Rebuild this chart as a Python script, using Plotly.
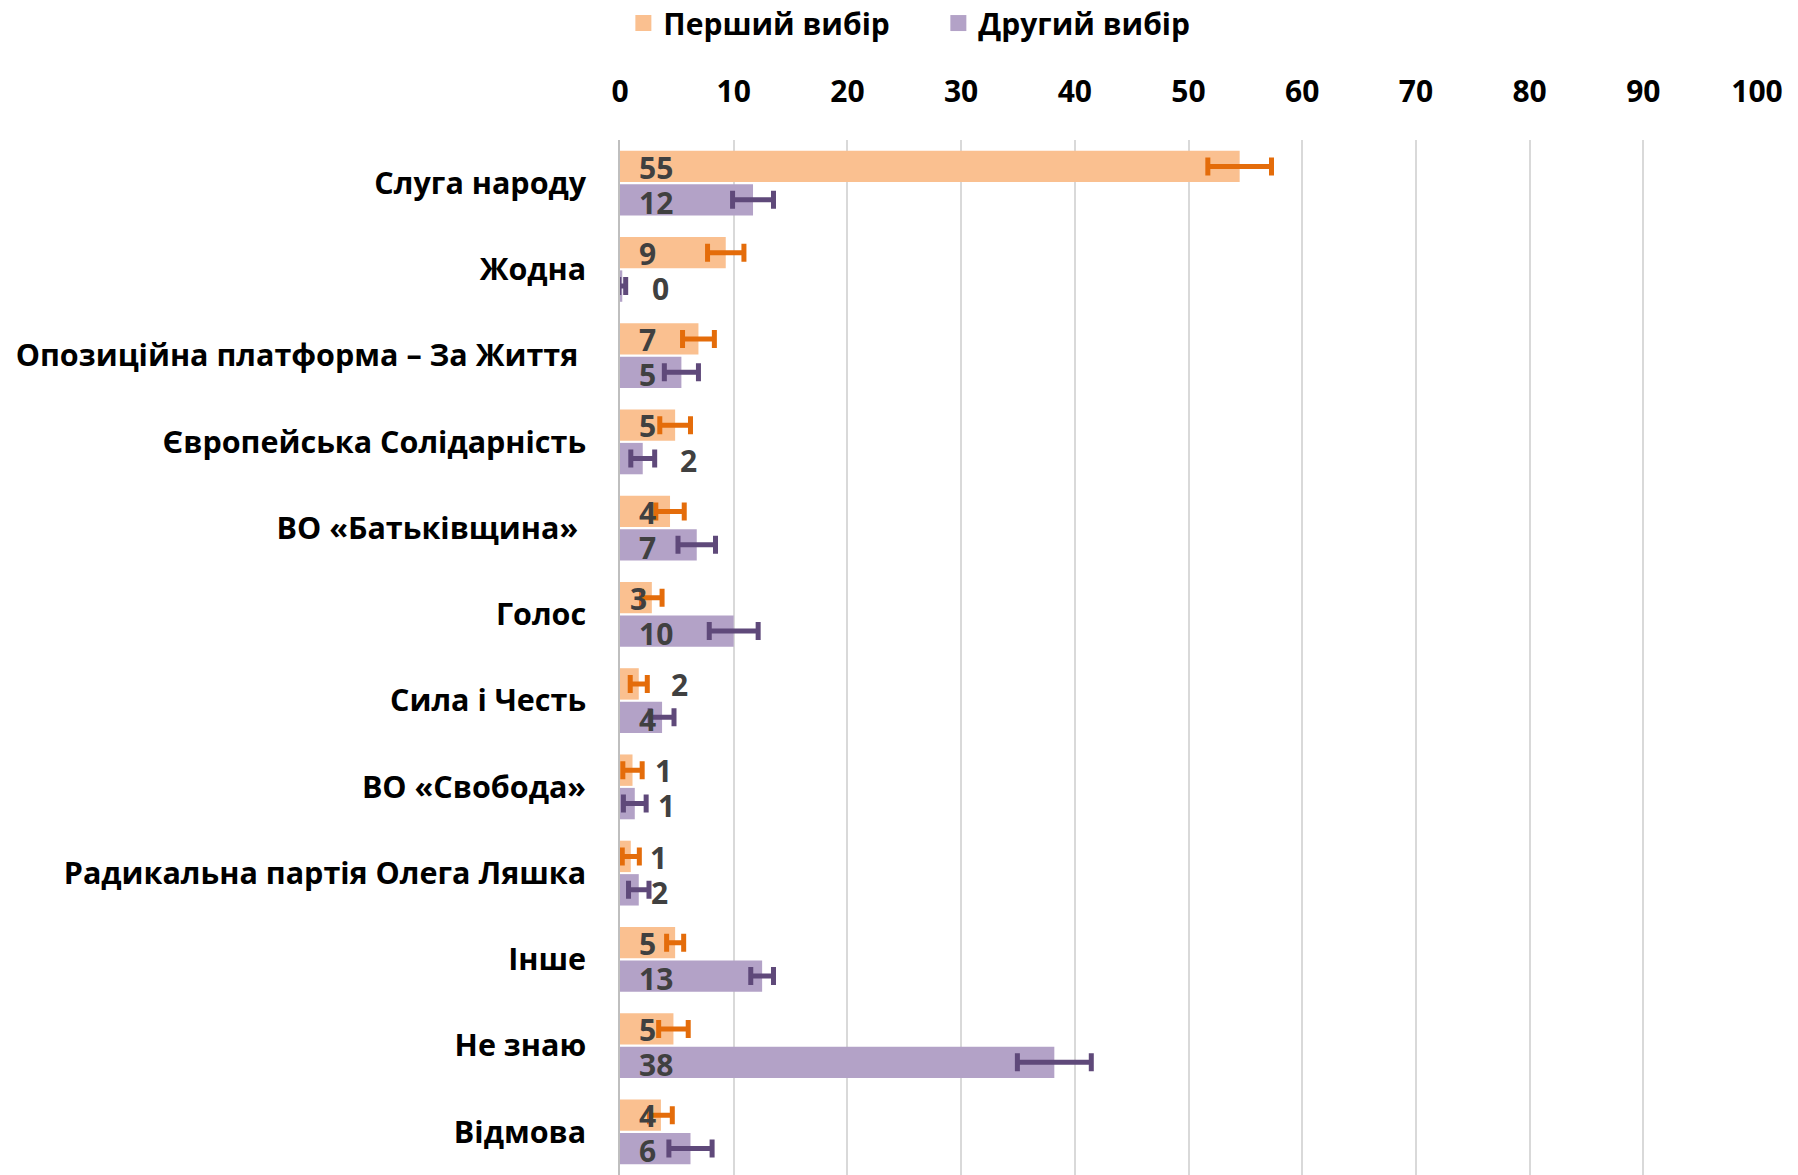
import plotly.graph_objects as go

categories = [
    "Слуга народу", "Жодна", "Опозиційна платформа – За Життя ", "Європейська Солідарність",
    "ВО «Батьківщина» ", "Голос", "Сила і Честь", "ВО «Свобода»",
    "Радикальна партія Олега Ляшка", "Інше", "Не знаю", "Відмова",
]
first_vals = [54.5, 9.3, 6.9, 4.85, 4.4, 2.8, 1.65, 1.1, 0.95, 4.85, 4.7, 3.6]
second_vals = [11.7, 0.2, 5.4, 2.0, 6.75, 10.0, 3.7, 1.3, 1.65, 12.5, 38.2, 6.2]
first_err = [2.8, 1.6, 1.4, 1.35, 1.25, 0.9, 0.75, 0.85, 0.75, 0.75, 1.3, 1.0]
second_err = [1.8, 0.3, 1.5, 1.05, 1.65, 2.15, 1.05, 1.0, 0.9, 1.0, 3.25, 1.9]
first_labels = ["55", "9", "7", "5", "4", "3", "2", "1", "1", "5", "5", "4"]
second_labels = ["12", "0", "5", "2", "7", "10", "4", "1", "2", "13", "38", "6"]
series_names = ["Перший вибір", "Другий вибір"]
x_ticks = [0, 10, 20, 30, 40, 50, 60, 70, 80, 90, 100]

# label pixel offsets from the axis (style)
first_shift = [17, 17, 17, 17, 17, 8, 49, 33, 28, 17, 17, 17]
second_shift = [17, 30, 17, 58, 17, 17, 17, 36, 29, 17, 17, 17]

FONT = "Open Sans"
ORANGE_FILL = "#FAC090"
PURPLE_FILL = "#B3A2C7"
ORANGE_ERR = "#E46C0A"
PURPLE_ERR = "#5F497A"

fig = go.Figure()
fig.add_trace(go.Bar(
    y=categories, x=first_vals, orientation="h", name=series_names[0], showlegend=False,
    marker=dict(color=ORANGE_FILL, line=dict(width=0)),
    error_x=dict(type="data", array=first_err, visible=True, color=ORANGE_ERR, thickness=5, width=9),
))
fig.add_trace(go.Bar(
    y=categories, x=second_vals, orientation="h", name=series_names[1], showlegend=False,
    marker=dict(color=PURPLE_FILL, line=dict(width=0)),
    error_x=dict(type="data", array=second_err, visible=True, color=PURPLE_ERR, thickness=5, width=9),
))
# legend entries with larger square swatches
for name, col in ((series_names[0], ORANGE_FILL), (series_names[1], PURPLE_FILL)):
    fig.add_trace(go.Scatter(
        x=[None], y=[None], mode="markers", name=name,
        marker=dict(symbol="square", size=19, color=col),
    ))

annotations = []
for i, c in enumerate(categories):
    for lbl, sh, ysh in ((first_labels[i], first_shift[i], 16), (second_labels[i], second_shift[i], -19)):
        annotations.append(dict(
            x=0, y=c, xref="x", yref="y", text=lbl, showarrow=False,
            xanchor="left", yanchor="middle", xshift=sh, yshift=ysh,
            font=dict(family=FONT, size=30, color="#404040", weight="bold"),
        ))

fig.update_layout(
    width=1798, height=1175,
    margin=dict(l=620, r=41, t=140, b=0, autoexpand=False),
    paper_bgcolor="white", plot_bgcolor="white",
    barmode="group", bargap=0.225, bargroupgap=0.06,
    font=dict(family=FONT, color="black"),
    legend=dict(
        orientation="h", x=0.28, xanchor="center", y=1.113, yanchor="middle",
        font=dict(family=FONT, size=30, color="black", weight="bold"),
        itemsizing="trace", traceorder="normal", entrywidth=270,
    ),
    annotations=annotations,
    xaxis=dict(
        side="top", range=[0, 100], tickvals=x_ticks,
        showgrid=True, gridcolor="#D9D9D9", gridwidth=1.5,
        zeroline=False, showline=False, ticks="",
        tickfont=dict(family=FONT, size=30, color="black", weight="bold"),
        ticklabelstandoff=31, automargin=False,
    ),
    yaxis=dict(
        autorange="reversed", showgrid=False, ticks="",
        showline=True, linecolor="#BFBFBF", linewidth=1.5,
        tickfont=dict(family=FONT, size=30.5, color="black", weight="bold"),
        ticklabelstandoff=26, automargin=False,
    ),
)

fig.write_html("out.html", config={"displayModeBar": False},
               post_script="document.body.style.margin='0';")
